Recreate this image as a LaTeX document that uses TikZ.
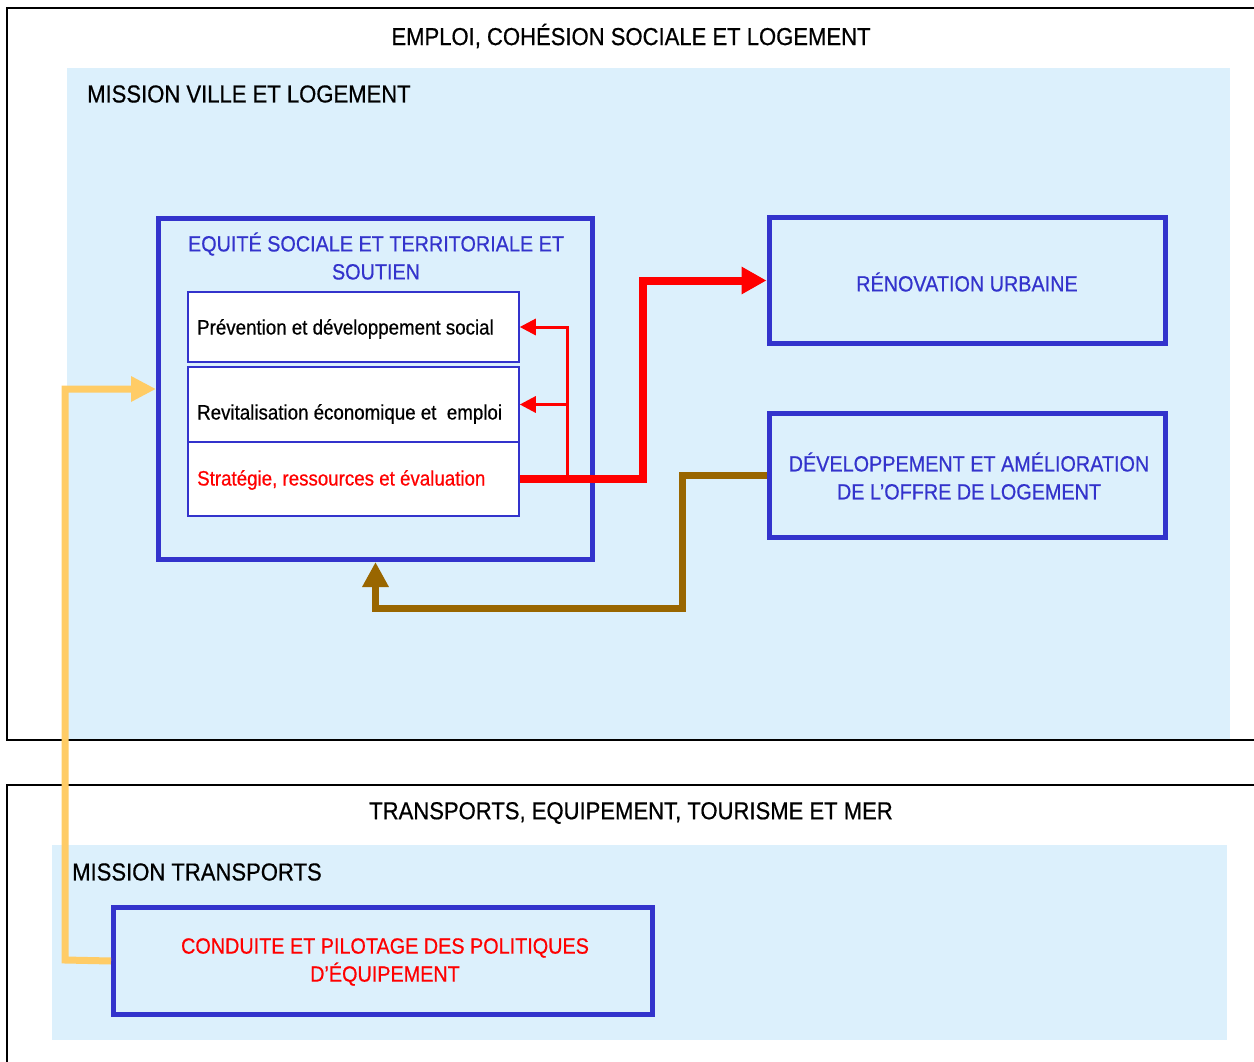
\documentclass[tikz,border=0pt]{standalone}
\usepackage{fontspec}
\setmainfont{Liberation Sans}[FakeStretch=0.9, FakeBold=0.6]
\usetikzlibrary{arrows.meta,calc}
\definecolor{lblue}{HTML}{DCF0FC}
\definecolor{bblue}{HTML}{3333CC}
\definecolor{rred}{HTML}{FF0000}
\definecolor{bbrown}{HTML}{996600}
\definecolor{yyel}{HTML}{FFCC66}
\tikzset{
  bigbox/.style={draw=bblue, line width=5pt, fill=lblue, inner sep=0pt},
  subbox/.style={draw=bblue, line width=1.5pt, fill=white, inner sep=0pt, minimum width=331pt},
  headtxt/.style={font=\fontsize{24.5}{28}\selectfont, inner sep=0pt},
  bluetxt/.style={font=\fontsize{22}{28}\selectfont, text=bblue, align=center, inner sep=0pt},
  smalltxt/.style={font=\fontsize{20.8}{24}\selectfont, inner sep=0pt, anchor=west},
  redthick/.style={draw=rred, line width=8pt, -{Triangle[length=25pt,width=26pt]}},
  redthin/.style={draw=rred, line width=3pt, -{Triangle[length=16pt,width=16pt]}},
  brownarr/.style={draw=bbrown, line width=7pt, -{Triangle[length=25pt,width=25pt]}},
  yelarr/.style={draw=yyel, line width=7pt, -{Triangle[length=25pt,width=24pt]}},
  outerline/.style={draw=black, line width=1.8pt}
}
\begin{document}
\begin{tikzpicture}[x=1pt,y=-1pt]
\useasboundingbox (0,0) rectangle (1254,1062);
\fill[white] (0,0) rectangle (1254,1062);
% outer frames
\draw[outerline] (1256,8) -- (7,8) -- (7,740) -- (1256,740);
\draw[outerline] (1256,785) -- (7,785) -- (7,1066);
% light blue areas
\fill[lblue] (67,68) rectangle (1230,739);
\fill[lblue] (52,845) rectangle (1227,1040);
% titles
\node[headtxt] (t1) at (631,36) {EMPLOI, COHÉSION SOCIALE ET LOGEMENT};
\node[headtxt, anchor=west] (t2) at (87,94) {MISSION VILLE ET LOGEMENT};
\node[headtxt] (t3) at (631,813) {TRANSPORTS, EQUIPEMENT, TOURISME ET MER};
\node[headtxt, anchor=west] (t4) at (72,872) {MISSION TRANSPORTS};
% main boxes
\node[bigbox, minimum width=434pt, minimum height=341pt] (equite) at (375.5,389) {};
\node[bluetxt] (equitetxt) at (376,256) {EQUITÉ SOCIALE ET TERRITORIALE ET\\SOUTIEN};
\node[subbox, minimum height=70pt] (prev) at (353.5,327) {};
\node[smalltxt] (prevtxt) at (197,329) {Prévention et développement social};
\node[subbox, minimum height=75pt] (revit) at (353.5,404.5) {};
\node[smalltxt] (revittxt) at (197,414) {Revitalisation économique et \ emploi};
\node[subbox, minimum height=74pt] (strat) at (353.5,479) {};
\node[smalltxt, text=rred] (strattxt) at (197,480) {Stratégie, ressources et évaluation};
\node[bigbox, minimum width=396pt, minimum height=125pt] (renov) at (967,280.5) {};
\node[bluetxt] (renovtxt) at (967,282) {RÉNOVATION URBAINE};
\node[bigbox, minimum width=396pt, minimum height=124pt] (devl) at (967,475) {};
\node[bluetxt] (devltxt) at (969,476) {DÉVELOPPEMENT ET AMÉLIORATION\\DE L’OFFRE DE LOGEMENT};
\node[bigbox, minimum width=539pt, minimum height=107pt] (cond) at (383,961) {};
\node[bluetxt, text=rred] (condtxt) at (385,962) {CONDUITE ET PILOTAGE DES POLITIQUES\\D’ÉQUIPEMENT};
% connectors
\coordinate (j) at (567,479);
\draw[redthin] (j) |- (prev.east);
\draw[redthin] (j) |- (revit.east);
\draw[redthick] (strat.east) -- (643,479) |- (renov.west);
\draw[brownarr] (devl.west) -| (682,608) -| (equite.south);
\draw[yelarr] (cond.west) -- (65,960) |- (equite.west);
\end{tikzpicture}
\end{document}
